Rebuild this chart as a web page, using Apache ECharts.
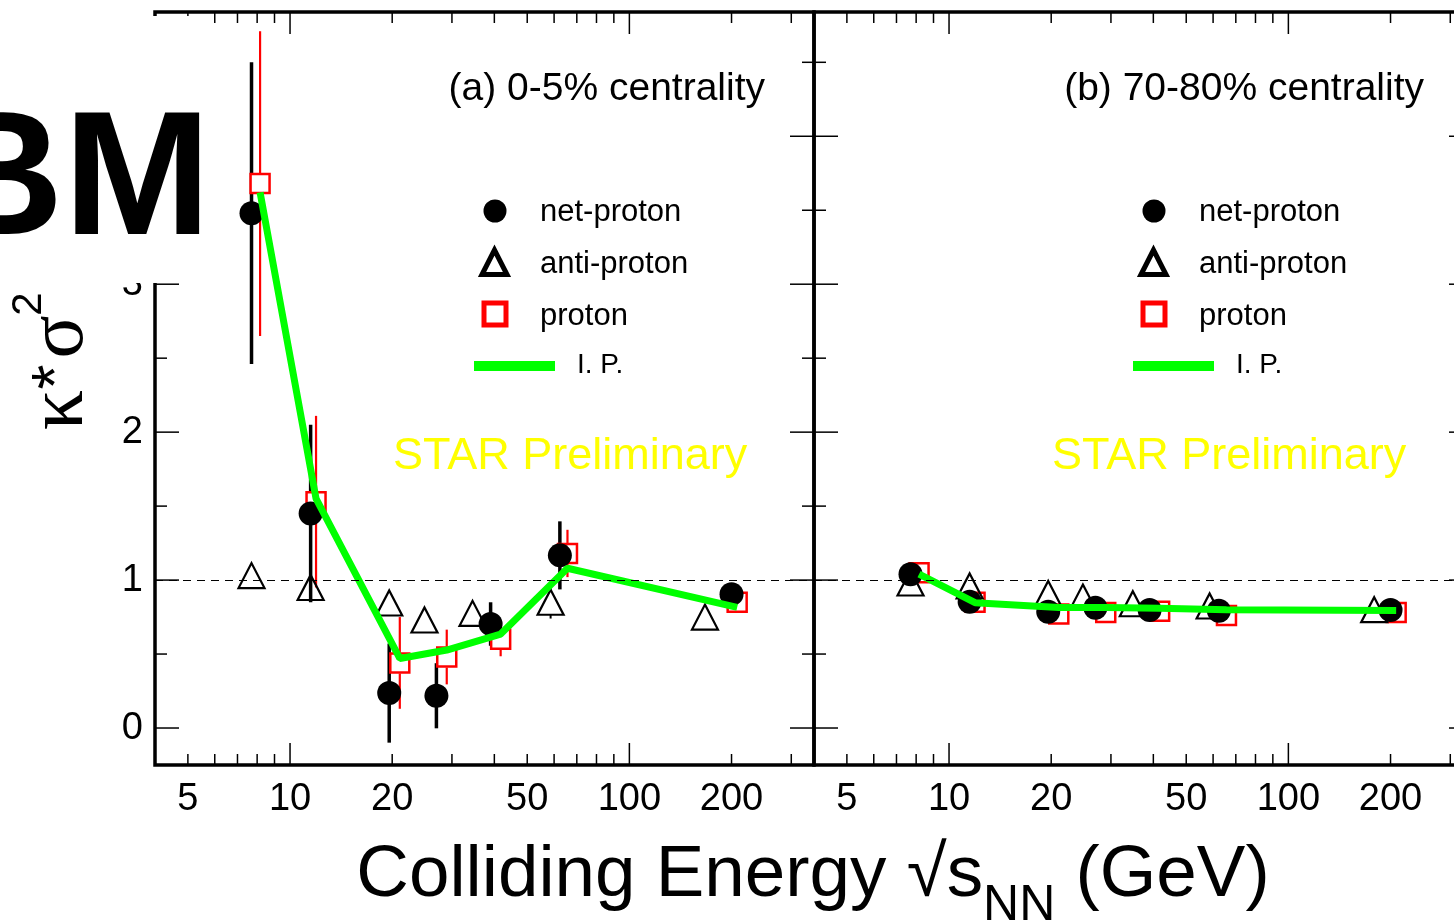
<!DOCTYPE html>
<html><head><meta charset="utf-8">
<script src="https://cdn.jsdelivr.net/npm/echarts@6/dist/echarts.min.js"></script>
<style>html,body{margin:0;padding:0;background:#fff}#chart{width:1454px;height:922px}</style>
</head><body><div id="chart"></div>
<script>
// ---------------- data ----------------
const energies = [7.7, 11.5, 19.6, 27, 39, 62.4, 200];
// plotted x positions (anti-proton shifted left, proton shifted right)
const protonX = [8.16, 11.93, 21.06, 28.96, 41.75, 65.7, 207.8];
const antiXa  = [7.7, 11.5, 19.6, 24.9, 34.5, 58.6, 167];
const antiXb  = [7.7, 11.5, 19.6, 24.8, 34.8, 58.6, 179];

// (a) 0-5% centrality
const netA     = [3.48, 1.45, 0.236, 0.218, 0.703, 1.167, 0.905];
const netErrA  = [1.02, 0.60, 0.335, 0.22, 0.147, 0.23, 0.03];
const antiA    = [1.03, 0.95, 0.845, 0.73, 0.775, 0.85, 0.75];
const antiErrA = [0.03, 0.03, 0.03, 0.04, 0.05, 0.11, 0.06];
const protA    = [3.68, 1.53, 0.44, 0.48, 0.60, 1.18, 0.85];
const protErrA = [1.03, 0.58, 0.31, 0.185, 0.115, 0.16, 0.03];
const ipA      = [3.62, 1.55, 0.47, 0.527, 0.635, 1.08, 0.815];

// (b) 70-80% centrality
const netB     = [1.04, 0.853, 0.786, 0.813, 0.797, 0.793, 0.797];
const netErrB  = [0.03, 0.02, 0.02, 0.02, 0.02, 0.02, 0.02];
const antiB    = [0.98, 0.96, 0.91, 0.885, 0.84, 0.825, 0.80];
const antiErrB = [0.02, 0.02, 0.02, 0.02, 0.02, 0.02, 0.02];
const protB    = [1.05, 0.85, 0.77, 0.78, 0.79, 0.76, 0.78];
const protErrB = [0.03, 0.02, 0.02, 0.02, 0.02, 0.02, 0.02];
const ipB      = [1.04, 0.847, 0.815, 0.815, 0.81, 0.80, 0.795];

// axes
const xMin = 4, xMax = 350, yMin = -0.25, yMax = 4.84;
const xTicks  = [5, 6, 7, 8, 9, 10, 20, 30, 40, 50, 60, 70, 80, 90, 100, 200, 300];
const xMajor  = [10, 100];
const xLabels = [5, 10, 20, 50, 100, 200];
const yTicks  = [0, 0.5, 1, 1.5, 2, 2.5, 3, 3.5, 4, 4.5];
const yLabels = [0, 1, 2, 3, 4];

const panelTitles = ['(a) 0-5% centrality', '(b) 70-80% centrality'];
const legendNames = ['net-proton', 'anti-proton', 'proton', 'I. P.'];
// --------------------------------------

const FONT = 'Liberation Sans';
const chart = echarts.init(document.getElementById('chart'), null, {renderer: 'canvas'});

function zip(xs, ys, es) { return xs.map((x, i) => es ? [x, ys[i], es[i]] : [x, ys[i]]); }

function errRender(gap, color, width) {
  return function (params, api) {
    const x = api.value(0), y = api.value(1), e = api.value(2);
    const c = api.coord([x, y]);
    const t = api.coord([x, y + e]);
    const b = api.coord([x, y - e]);
    const ch = [];
    if (c[1] - t[1] > gap) ch.push({type: 'line', shape: {x1: c[0], y1: t[1], x2: c[0], y2: c[1] - gap}, style: {stroke: color, lineWidth: width}});
    if (b[1] - c[1] > gap) ch.push({type: 'line', shape: {x1: c[0], y1: c[1] + gap, x2: c[0], y2: b[1]}, style: {stroke: color, lineWidth: width}});
    return {type: 'group', children: ch};
  };
}
function xTickRender(params, api) {
  const v = api.value(0), major = api.value(2);
  const b = api.coord([v, yMin]), t = api.coord([v, yMax]);
  const len = major ? 22 : 11;
  const st = {stroke: '#000', lineWidth: 1.5};
  return {type: 'group', children: [
    {type: 'line', shape: {x1: b[0], y1: b[1], x2: b[0], y2: b[1] - len}, style: st},
    {type: 'line', shape: {x1: t[0], y1: t[1], x2: t[0], y2: t[1] + len}, style: st}
  ]};
}
function yTickRender(params, api) {
  const v = api.value(1), major = api.value(2);
  const l = api.coord([xMin, v]), r = api.coord([xMax, v]);
  const len = major ? 24 : 12;
  const st = {stroke: '#000', lineWidth: 1.5};
  return {type: 'group', children: [
    {type: 'line', shape: {x1: l[0], y1: l[1], x2: l[0] + len, y2: l[1]}, style: st},
    {type: 'line', shape: {x1: r[0], y1: r[1], x2: r[0] - len, y2: r[1]}, style: st}
  ]};
}
function xLabelRender(params, api) {
  const v = api.value(0);
  const p = api.coord([v, yMin]);
  return {type: 'text', x: p[0], y: p[1] + 16, style: {text: String(v), fontSize: 38, fontFamily: FONT, fill: '#000', align: 'center', verticalAlign: 'top'}};
}

const panels = [
  {net: netA, netErr: netErrA, antiX: antiXa, anti: antiA, antiErr: antiErrA, prot: protA, protErr: protErrA, ip: ipA},
  {net: netB, netErr: netErrB, antiX: antiXb, anti: antiB, antiErr: antiErrB, prot: protB, protErr: protErrB, ip: ipB}
];

const grids = [], xAxes = [], yAxes = [], series = [], graphics = [];
const gridLeft = [155, 814], gridW = 659;

panels.forEach((p, g) => {
  grids.push({left: gridLeft[g], top: 12, width: gridW, height: 753, show: true, borderColor: '#000', borderWidth: 3.5,
    backgroundColor: 'transparent', containLabel: false, outerBoundsMode: 'none'});
  xAxes.push({type: 'log', logBase: 10, gridIndex: g, min: xMin, max: xMax,
    axisLine: {show: false}, axisTick: {show: false}, axisLabel: {show: false}, splitLine: {show: false}});
  yAxes.push({type: 'value', gridIndex: g, min: yMin, max: yMax,
    axisLine: {show: false}, axisTick: {show: false}, splitLine: {show: false},
    axisLabel: g === 0 ? {customValues: yLabels, fontSize: 38, fontFamily: FONT, color: '#000', margin: 12} : {show: false}});
  const ax = {xAxisIndex: g, yAxisIndex: g};

  series.push(Object.assign({type: 'custom', silent: true, renderItem: xTickRender,
    data: xTicks.map(v => [v, 0, xMajor.includes(v) ? 1 : 0])}, ax));
  series.push(Object.assign({type: 'custom', silent: true, renderItem: yTickRender,
    data: yTicks.map(v => [xMin, v, Number.isInteger(v) ? 1 : 0])}, ax));
  series.push(Object.assign({type: 'custom', silent: true, renderItem: xLabelRender,
    data: xLabels.map(v => [v, yMin])}, ax));

  // proton error bars + markers
  series.push(Object.assign({type: 'custom', renderItem: errRender(10.5, '#ff0000', 2.2),
    data: zip(protonX, p.prot, p.protErr)}, ax));
  series.push(Object.assign({type: 'scatter', name: 'proton', symbol: 'rect', symbolSize: 19,
    itemStyle: {color: '#ffffff', borderColor: '#ff0000', borderWidth: 2.5, opacity: 1},
    data: zip(protonX, p.prot)}, ax));
  // I.P. line + unity reference
  series.push(Object.assign({type: 'line', name: 'I. P.', symbol: 'none',
    lineStyle: {color: '#00ff00', width: 7}, data: zip(protonX, p.ip),
    markLine: {silent: true, symbol: ['none', 'none'], label: {show: false},
      lineStyle: {color: '#000', type: [8, 6], width: 1.2}, data: [{yAxis: 1}]}}, ax));
  // anti-proton
  series.push(Object.assign({type: 'custom', renderItem: errRender(12.5, '#000', 2),
    data: zip(p.antiX, p.anti, p.antiErr)}, ax));
  series.push(Object.assign({type: 'scatter', name: 'anti-proton', symbol: 'triangle', symbolSize: [26, 25],
    itemStyle: {color: 'rgba(0,0,0,0)', borderColor: '#000', borderWidth: 2.2, opacity: 1},
    data: zip(p.antiX, p.anti)}, ax));
  // net-proton
  series.push(Object.assign({type: 'custom', renderItem: errRender(0, '#000', 3.5),
    data: zip(energies, p.net, p.netErr)}, ax));
  series.push(Object.assign({type: 'scatter', name: 'net-proton', symbol: 'circle', symbolSize: 24,
    itemStyle: {color: '#000', opacity: 1}, data: zip(energies, p.net)}, ax));

  // legend, titles
  const dx = gridLeft[g] - gridLeft[0];
  graphics.push(
    {type: 'circle', z: 50, shape: {cx: 495 + dx, cy: 211, r: 11.5}, style: {fill: '#000'}},
    {type: 'polygon', z: 50, shape: {points: [[494.5 + dx, 250], [482 + dx, 274.5], [507 + dx, 274.5]]}, style: {fill: 'none', stroke: '#000', lineWidth: 5, lineJoin: 'miter'}},
    {type: 'rect', z: 50, shape: {x: 484 + dx, y: 303, width: 22, height: 22}, style: {fill: 'none', stroke: '#ff0000', lineWidth: 5}},
    {type: 'line', z: 50, shape: {x1: 474 + dx, y1: 366, x2: 555 + dx, y2: 366}, style: {stroke: '#00ff00', lineWidth: 10}},
    {type: 'text', z: 50, x: 540 + dx, y: 212, style: {text: legendNames[0], fontSize: 31, fontFamily: FONT, fill: '#000', verticalAlign: 'middle'}},
    {type: 'text', z: 50, x: 540 + dx, y: 264, style: {text: legendNames[1], fontSize: 31, fontFamily: FONT, fill: '#000', verticalAlign: 'middle'}},
    {type: 'text', z: 50, x: 540 + dx, y: 316, style: {text: legendNames[2], fontSize: 31, fontFamily: FONT, fill: '#000', verticalAlign: 'middle'}},
    {type: 'text', z: 50, x: 577 + dx, y: 365, style: {text: legendNames[3], fontSize: 28, fontFamily: FONT, fill: '#000', verticalAlign: 'middle'}},
    {type: 'text', z: 50, x: 765 + dx, y: 89, style: {text: panelTitles[g], fontSize: 39, fontFamily: FONT, fill: '#000', align: 'right', verticalAlign: 'middle'}},
    {type: 'text', z: 50, x: 393 + dx, y: 457, style: {text: 'STAR Preliminary', fontSize: 45, fontFamily: FONT, fill: '#ffff00', verticalAlign: 'middle'}}
  );
});

// logo patch (white box + cropped "CBM"), axis titles
const ySerif = 'Liberation Serif';
graphics.push(
  {type: 'rect', z: 100, shape: {x: 0, y: 16, width: 205, height: 267}, style: {fill: '#ffffff'}},
  {type: 'text', z: 101, x: 211, y: 185, style: {text: 'CBM', fontSize: 177, fontWeight: 'bold', fontFamily: FONT, fill: '#000', align: 'right', verticalAlign: 'middle'}},
  // y title  κ*σ²  (rotated, reading bottom-to-top)
  {type: 'text', z: 101, x: 61, y: 410, rotation: Math.PI / 2, style: {text: 'κ', fontSize: 80, fontFamily: ySerif, fill: '#000', align: 'center', verticalAlign: 'middle'}},
  {type: 'text', z: 101, x: 59, y: 377, rotation: Math.PI / 2, style: {text: '*', fontSize: 64, fontFamily: FONT, fill: '#000', align: 'center', verticalAlign: 'middle'}},
  {type: 'text', z: 101, x: 61, y: 337, rotation: Math.PI / 2, style: {text: 'σ', fontSize: 80, fontFamily: ySerif, fill: '#000', align: 'center', verticalAlign: 'middle'}},
  {type: 'text', z: 101, x: 29, y: 304, rotation: Math.PI / 2, style: {text: '2', fontSize: 42, fontFamily: FONT, fill: '#000', align: 'center', verticalAlign: 'middle'}},
  {type: 'text', z: 101, x: 813, y: 839,
    style: {text: '{a|Colliding Energy √s}{b|NN}{a| (GeV)}', align: 'center', verticalAlign: 'top', fill: '#000',
      rich: {
        a: {fontSize: 72.8, fontFamily: FONT, lineHeight: 72, verticalAlign: 'top', fill: '#000'},
        b: {fontSize: 50, fontFamily: FONT, lineHeight: 50, padding: [42, 0, 0, 0], verticalAlign: 'top', fill: '#000'}
      }}}
);

chart.setOption({
  animation: false,
  backgroundColor: '#ffffff',
  textStyle: {fontFamily: FONT},
  grid: grids, xAxis: xAxes, yAxis: yAxes, series: series,
  graphic: {elements: graphics}
});
</script></body></html>
